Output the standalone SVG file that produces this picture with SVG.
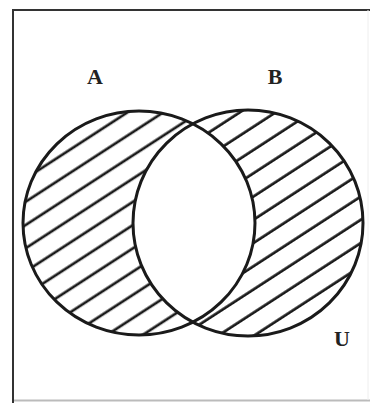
<svg xmlns="http://www.w3.org/2000/svg" width="370" height="403" viewBox="0 0 370 403">
<style>
.hatch{stroke:#1a1a1a;stroke-width:2.7;}
.set{fill:none;stroke:#1a1a1a;stroke-width:3;}
.lbl{font-family:"Liberation Serif",serif;font-weight:bold;font-size:22px;fill:#222;text-anchor:middle;}
</style>
<defs>
<pattern id="patA" patternUnits="userSpaceOnUse" width="40" height="19.5" patternTransform="rotate(-33)">
<line class="hatch" x1="-5" y1="7.7" x2="45" y2="7.7"/>
</pattern>
<pattern id="patB" patternUnits="userSpaceOnUse" width="40" height="19.5" patternTransform="rotate(-33)">
<line class="hatch" x1="-5" y1="10.4" x2="45" y2="10.4"/>
</pattern>
<clipPath id="clipA"><ellipse cx="139" cy="223" rx="116" ry="112"/></clipPath>
</defs>
<rect width="370" height="403" fill="#fff"/>
<g id="frame">
<line x1="13" y1="10" x2="370" y2="10" stroke="#333" stroke-width="2"/>
<line x1="13" y1="9" x2="13" y2="403" stroke="#333" stroke-width="2"/>
<line x1="14" y1="400.5" x2="370" y2="400.5" stroke="#bbb" stroke-width="2"/>
<line x1="368" y1="10" x2="368" y2="400" stroke="#eee" stroke-width="1"/>
</g>
<g id="hatching">
<ellipse cx="139" cy="223" rx="116" ry="112" fill="url(#patA)"/>
<ellipse cx="248" cy="223" rx="115" ry="113" fill="url(#patB)"/>
<g clip-path="url(#clipA)"><ellipse cx="248" cy="223" rx="115" ry="113" fill="#fff"/></g>
</g>
<g id="setA">
<ellipse class="set" cx="139" cy="223" rx="116" ry="112"/>
<text class="lbl" x="95" y="84">A</text>
</g>
<g id="setB">
<ellipse class="set" cx="248" cy="223" rx="115" ry="113"/>
<text class="lbl" x="275" y="84">B</text>
</g>
<g id="universe">
<text class="lbl" x="342" y="346">U</text>
</g>
</svg>
